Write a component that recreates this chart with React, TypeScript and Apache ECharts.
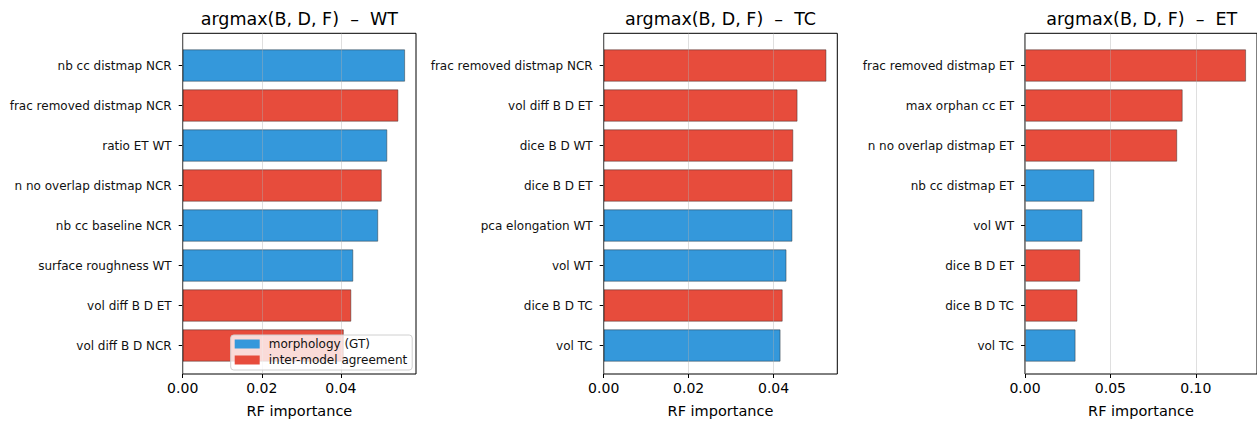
import React, { useEffect, useRef } from "react";
import * as echarts from "echarts";

const panelTitles = ["argmax(B, D, F)  –  WT", "argmax(B, D, F)  –  TC", "argmax(B, D, F)  –  ET"];

const wtFeatures = [
  "nb cc distmap NCR",
  "frac removed distmap NCR",
  "ratio ET WT",
  "n no overlap distmap NCR",
  "nb cc baseline NCR",
  "surface roughness WT",
  "vol diff B D ET",
  "vol diff B D NCR",
];
const wtValues = [0.0562, 0.0545, 0.0517, 0.0503, 0.0494, 0.0431, 0.0426, 0.0407];
const wtGroups = ["M", "A", "M", "A", "M", "M", "A", "A"];

const tcFeatures = [
  "frac removed distmap NCR",
  "vol diff B D ET",
  "dice B D WT",
  "dice B D ET",
  "pca elongation WT",
  "vol WT",
  "dice B D TC",
  "vol TC",
];
const tcValues = [0.0524, 0.0456, 0.0446, 0.0444, 0.0444, 0.043, 0.0421, 0.0416];
const tcGroups = ["A", "A", "A", "A", "M", "M", "A", "M"];

const etFeatures = [
  "frac removed distmap ET",
  "max orphan cc ET",
  "n no overlap distmap ET",
  "nb cc distmap ET",
  "vol WT",
  "dice B D ET",
  "dice B D TC",
  "vol TC",
];
const etValues = [0.1293, 0.0922, 0.089, 0.0405, 0.0335, 0.0322, 0.0306, 0.0295];
const etGroups = ["A", "A", "A", "M", "M", "A", "A", "M"];

const wtTicks = [0, 0.02, 0.04];
const tcTicks = [0, 0.02, 0.04];
const etTicks = [0, 0.05, 0.1];

const groupNames = { M: "morphology (GT)", A: "inter-model agreement" };
const groupColors = { M: "#3498db", A: "#e74c3c" };

const FONT = "DejaVu Sans";

export default function App() {
  const ref = useRef<HTMLDivElement>(null);
  useEffect(() => {
    if (!ref.current) return;
    const chart = echarts.init(ref.current, undefined, { renderer: "svg" });

    const panels = [
      { features: wtFeatures, values: wtValues, groups: wtGroups, ticks: wtTicks, max: 0.059, interval: 0.02, left: 182.7, width: 233.3 },
      { features: tcFeatures, values: tcValues, groups: tcGroups, ticks: tcTicks, max: 0.055, interval: 0.02, left: 603.7, width: 233.6 },
      { features: etFeatures, values: etValues, groups: etGroups, ticks: etTicks, max: 0.1358, interval: 0.05, left: 1025, width: 233.5 },
    ];

    const grid: any[] = [];
    const xAxis: any[] = [];
    const yAxis: any[] = [];
    const series: any[] = [];
    const graphic: any[] = [];

    panels.forEach((p, i) => {
      grid.push({
        left: p.left,
        top: 33.3,
        width: p.width,
        height: 345,
        show: true,
        borderColor: "#000",
        borderWidth: 1,
        backgroundColor: "transparent",
        z: 3,
      });
      grid.push({ left: p.left, top: 45.5, width: p.width, height: 320 });

      xAxis.push({
        gridIndex: 2 * i,
        type: "value",
        min: 0,
        max: p.max,
        interval: p.interval,
        z: 3,
        axisLine: { show: false },
        axisTick: { show: true, length: 4, lineStyle: { color: "#000", width: 1 }, customValues: p.ticks },
        axisLabel: {
          customValues: p.ticks,
          fontSize: 14,
          color: "#000",
          fontFamily: FONT,
          margin: 7,
          formatter: (v: number) => v.toFixed(2),
        },
        splitLine: { show: true, lineStyle: { color: "rgba(176,176,176,0.4)", width: 1 } },
        name: "RF importance",
        nameLocation: "middle",
        nameGap: 29,
        nameTextStyle: { fontSize: 14.5, color: "#000", fontFamily: FONT },
      });
      xAxis.push({ gridIndex: 2 * i + 1, type: "value", min: 0, max: p.max, show: false });

      yAxis.push({ gridIndex: 2 * i, type: "value", show: false, min: 0, max: 1 });
      yAxis.push({
        gridIndex: 2 * i + 1,
        type: "category",
        data: p.features,
        inverse: true,
        axisLine: { show: false },
        axisTick: { show: true, alignWithLabel: true, length: 4, lineStyle: { color: "#000", width: 1 } },
        axisLabel: { fontSize: 12, color: "#111", fontFamily: FONT, margin: 11 },
        splitLine: { show: false },
      });

      (["M", "A"] as const).forEach((g) => {
        series.push({
          type: "bar",
          name: groupNames[g],
          xAxisIndex: 2 * i + 1,
          yAxisIndex: 2 * i + 1,
          stack: "s" + i,
          barWidth: "80%",
          data: p.values.map((v, k) => (p.groups[k] === g ? v : "-")),
          itemStyle: { color: groupColors[g], borderColor: "rgba(40,40,40,0.75)", borderWidth: 0.6 },
        });
      });

      graphic.push({
        type: "text",
        x: p.left + p.width / 2,
        y: 19,
        style: {
          text: panelTitles[i],
          textAlign: "center",
          textVerticalAlign: "middle",
          fontSize: 17.5,
          fontFamily: FONT,
          fill: "#000",
        },
      });
    });

    chart.setOption({
      animation: false,
      backgroundColor: "#fff",
      graphic,
      grid,
      xAxis,
      yAxis,
      series,
      legend: {
        data: [groupNames.M, groupNames.A],
        orient: "vertical",
        left: 230.7,
        top: 335,
        itemWidth: 25,
        itemHeight: 9,
        itemGap: 4,
        padding: [3, 5, 4, 4],
        backgroundColor: "rgba(255,255,255,0.8)",
        borderColor: "#d0d0d0",
        borderWidth: 1,
        borderRadius: 3,
        icon: "rect",
        itemStyle: { borderWidth: 0 },
        textStyle: { fontSize: 12, color: "#111", fontFamily: FONT, padding: [0, 0, 0, 4] },
        z: 5,
      },
    });

    return () => chart.dispose();
  }, []);

  return (
    <div
      ref={ref}
      style={{ position: "absolute", left: 0, top: 0, width: 1257, height: 423 }}
    />
  );
}
